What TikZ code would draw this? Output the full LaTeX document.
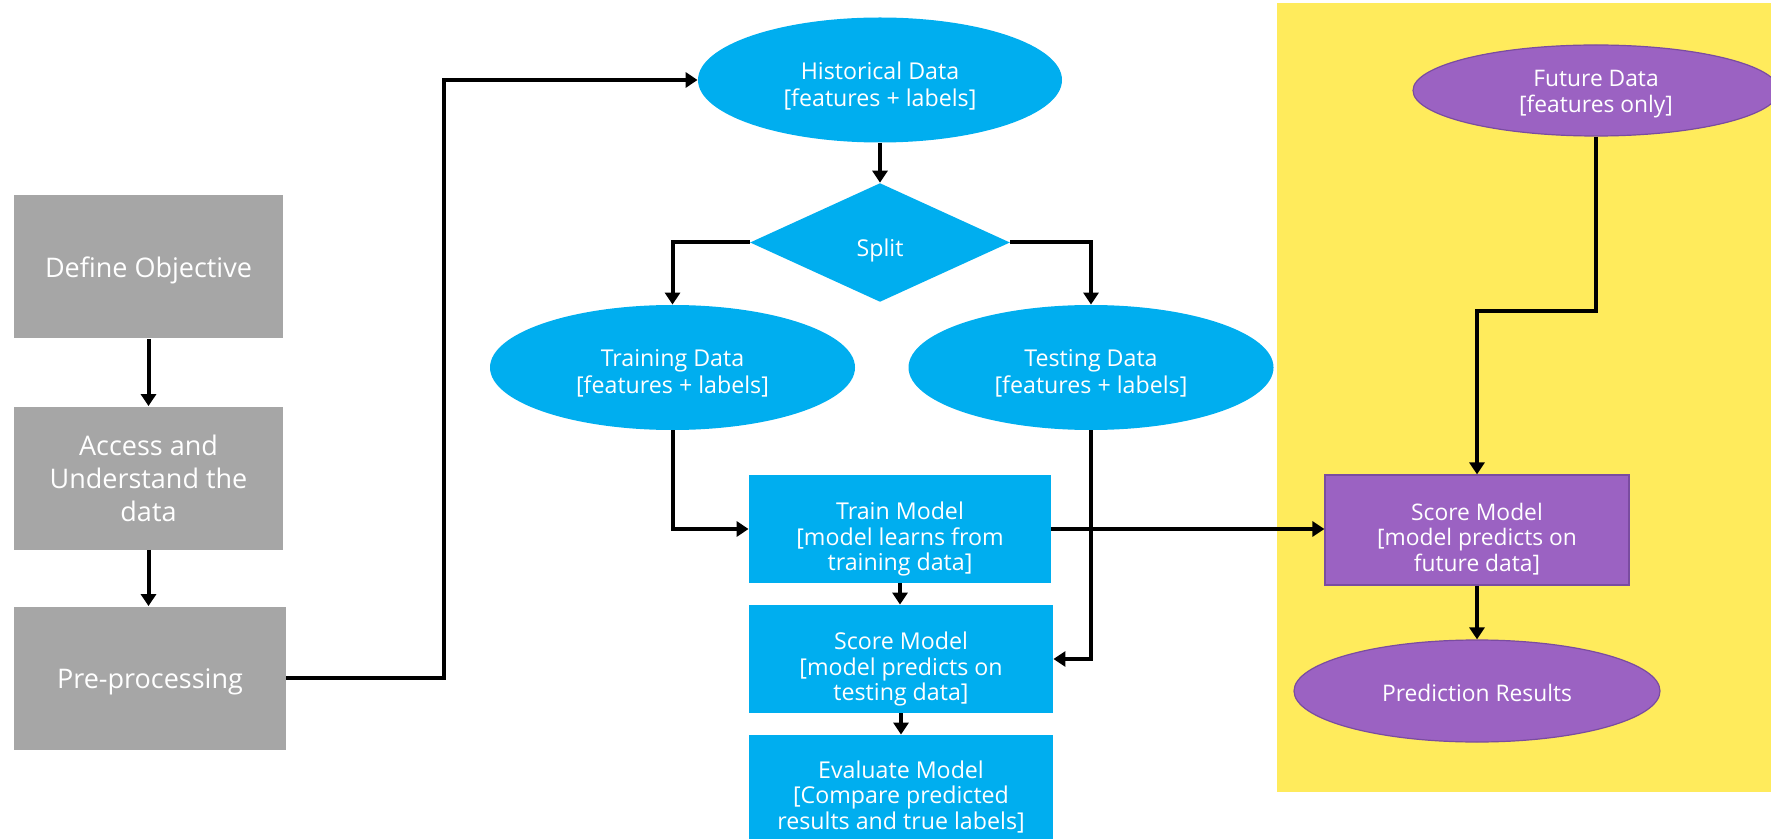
\documentclass[tikz,border=0pt]{standalone}
\usepackage{fontspec}
\setmainfont{Open Sans}
\usetikzlibrary{shapes.geometric,arrows.meta}
\definecolor{graybox}{HTML}{A6A6A6}
\definecolor{bluebox}{HTML}{00AEEF}
\definecolor{purplebox}{HTML}{9B62C2}
\definecolor{purpleline}{HTML}{7A4CA0}
\definecolor{yellowbg}{HTML}{FFEB5C}
\begin{document}
\begin{tikzpicture}[x=0.5pt,y=-0.5pt,
  graynode/.style={rectangle, fill=graybox, minimum width=134.5pt, minimum height=71.5pt, inner sep=0pt},
  gtxt/.style={text=white, align=center, inner sep=0pt, font=\fontsize{13.5}{16.5}\selectfont},
  bluebase/.style={fill=bluebox, inner sep=0pt},
  blueell/.style={bluebase, ellipse},
  bluerect/.style={bluebase, rectangle},
  bluediam/.style={bluebase, diamond},
  etxt/.style={text=white, align=center, inner sep=0pt, font=\fontsize{11.6}{13.5}\selectfont},
  btxt/.style={text=white, align=center, inner sep=0pt, font=\fontsize{11.6}{12.9}\selectfont},
  purplebase/.style={fill=purplebox, draw=purpleline, line width=0.6pt, inner sep=0pt},
  ptxt/.style={text=white, align=center, inner sep=0pt, font=\fontsize{11.4}{12.9}\selectfont},
  link/.style={line width=2pt, -{Triangle[width=7.5pt,length=6pt]}},
]
\useasboundingbox (0,0) rectangle (1771,839);
\fill[yellowbg] (1277,3) rectangle (1775,792);

% left column
\node[graynode, label={[gtxt, yshift=-1.5pt]center:Define Objective}] (def) at (148.5,267) {};
\node[graynode, label={[gtxt]center:Access and\\Understand the\\data}] (acc) at (148.5,478) {};
\node[graynode, minimum width=136pt, label={[gtxt, yshift=-1.7pt]center:Pre-processing}] (pre) at (150,678) {};

% middle column
\node[blueell, minimum width=182pt, minimum height=62.5pt,
      label={[etxt, yshift=-3pt]center:Historical Data\\{}[features + labels]}] (hist) at (880,80) {};
\node[bluediam, minimum width=130pt, minimum height=59.4pt,
      label={[etxt, yshift=-4pt]center:Split}] (split) at (880,242.5) {};
\node[blueell, minimum width=182.5pt, minimum height=62.5pt,
      label={[etxt, yshift=-3pt]center:Training Data\\{}[features + labels]}] (trd) at (672.5,367.5) {};
\node[blueell, minimum width=182.5pt, minimum height=62.5pt,
      label={[etxt, yshift=-3pt]center:Testing Data\\{}[features + labels]}] (ted) at (1091,367.5) {};
\node[bluerect, minimum width=151pt, minimum height=54pt,
      label={[btxt, yshift=-5pt]center:Train Model\\{}[model learns from\\training data]}] (trainm) at (900,529) {};
\node[bluerect, minimum width=152pt, minimum height=54pt,
      label={[btxt, yshift=-5pt]center:Score Model\\{}[model predicts on\\testing data]}] (scorem) at (901,659) {};
\node[bluerect, minimum width=152pt, minimum height=62pt,
      label={[btxt]center:Evaluate Model\\{}[Compare predicted\\results and true labels]}] (evalm) at (901,797) {};

% right column
\node[purplebase, ellipse, minimum width=183pt, minimum height=45.5pt,
      label={[ptxt, yshift=-1.7pt]center:Future Data\\{}[features only]}] (future) at (1596,90.5) {};
\node[purplebase, rectangle, minimum width=152pt, minimum height=55pt,
      label={[ptxt, yshift=-4.5pt]center:Score Model\\{}[model predicts on\\future data]}] (pscore) at (1477,530) {};
\node[purplebase, ellipse, minimum width=183pt, minimum height=51pt,
      label={[ptxt, yshift=-1pt]center:Prediction Results}] (pred) at (1477,691) {};

\coordinate (c1) at (444,678);
\coordinate (c2) at (1596,311);

% connectors
\draw[link] (def.south) -- (acc.north);
\draw[link] (acc.south) -- (acc.south |- pre.north);
\draw[link] (pre.east) -- (c1) |- (hist.west);
\draw[link] (hist.south) -- (hist.south |- split.north);
\draw[link] (split.west) -| (trd.north);
\draw[link] (split.east) -| (ted.north);
\draw[link] (trd.south) |- (trainm.west);
\draw[link] (ted.south) |- (scorem.east);
\draw[link] (trainm.south) -- (trainm.south |- scorem.north);
\draw[link] (scorem.south) -- (scorem.south |- evalm.north);
\draw[link] (trainm.east) -- (trainm.east -| pscore.west);
\draw[link] (future.south) -- (c2) -| (pscore.north);
\draw[link] (pscore.south) -- (pred.north);
\end{tikzpicture}
\end{document}
